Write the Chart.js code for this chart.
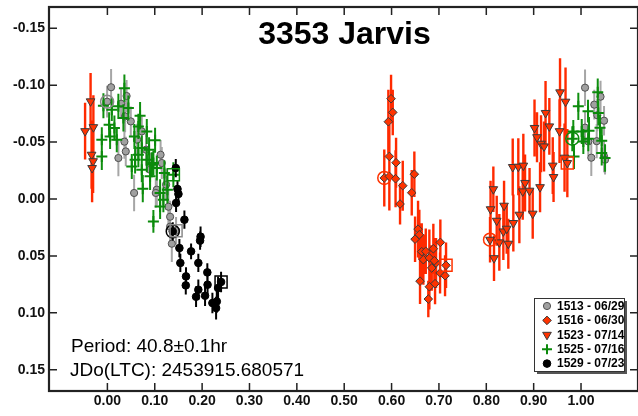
<!DOCTYPE html>
<html>
<head>
<meta charset="utf-8">
<script src="https://cdn.jsdelivr.net/npm/chart.js@4.4.1/dist/chart.umd.min.js"></script>
<style>
  html, body { margin: 0; padding: 0; background: #fff; }
  canvas { display: block; }
</style>
</head>
<body>
<canvas id="lc" width="638" height="416"></canvas>
<script>
// Lightcurve of 3353 Jarvis, phased to P = 40.8 h.
// Each session row: [phase, delta mag, error]. First row is the session start, last row the session end.
const sessions = ['1513 - 06/29', '1516 - 06/30', '1523 - 07/14', '1525 - 07/16', '1529 - 07/23'];

const s1513 = [
  [-0.0006, -0.0855, 0.014],
  [0.0078, -0.0982, 0.016], [0.0405, -0.0905, 0.014], [0.0289, -0.0837, 0.013],
  [0.0374, -0.0726, 0.014], [0.0494, -0.0682, 0.013], [0.0359, -0.0504, 0.015],
  [0.0388, -0.0418, 0.013], [0.0232, -0.0360, 0.016], [0.0564, -0.0053, 0.016],
  [0.0627, -0.0521, 0.014], [0.0726, -0.0594, 0.013], [0.0817, -0.0433, 0.014],
  [0.0901, -0.0257, 0.015], [0.1123, -0.0389, 0.013], [0.1148, -0.0316, 0.014],
  [0.1043, -0.0082, 0.014], [0.1022, -0.0053, 0.013], [0.1239, -0.0126, 0.014],
  [0.1288, 0.0068, 0.015], [0.1324, 0.0156, 0.014], [0.1324, 0.0243, 0.013],
  [0.1360, 0.0393, 0.016],
  [1.0085, -0.0978, 0.016], [1.0412, -0.0899, 0.014], [1.0280, -0.0829, 0.013],
  [1.0344, -0.0736, 0.014], [1.0486, -0.0688, 0.013], [1.0085, -0.0627, 0.014],
  [1.0331, -0.0508, 0.015], [1.0154, -0.0506, 0.013], [1.0217, -0.0363, 0.016],
  [1.0486, -0.0374, 0.014], [1.0507, -0.0345, 0.013],
  [0.1450, 0.0279, 0.012]
];

const s1516 = [
  [0.5846, -0.0185, 0.025],
  [0.5989, -0.0881, 0.021], [0.6025, -0.0761, 0.020], [0.5932, -0.0679, 0.028],
  [0.5953, -0.0374, 0.028], [0.6095, -0.0319, 0.022], [0.5953, -0.0199, 0.030],
  [0.6084, -0.0178, 0.025], [0.6236, -0.0117, 0.022], [0.6481, -0.0218, 0.020],
  [0.6426, -0.0055, 0.020], [0.6179, 0.0044, 0.018], [0.6559, 0.0265, 0.025],
  [0.6586, 0.0314, 0.022], [0.6496, 0.0353, 0.020], [0.6637, 0.0463, 0.025],
  [0.6671, 0.0533, 0.022], [0.6722, 0.0460, 0.020], [0.6798, 0.0518, 0.025],
  [0.6882, 0.0437, 0.022], [0.7030, 0.0381, 0.020], [0.6939, 0.0562, 0.022],
  [0.6848, 0.0606, 0.020], [0.6903, 0.0542, 0.020], [0.7024, 0.0650, 0.018],
  [0.7129, 0.0674, 0.018], [0.6601, 0.0722, 0.020], [0.6798, 0.0771, 0.020],
  [0.6918, 0.0744, 0.018], [0.6776, 0.0879, 0.016],
  [0.7150, 0.0583, 0.020]
];

const s1523 = [
  [0.8079, 0.0358, 0.020],
  [0.8163, 0.0520, 0.020], [0.8275, 0.0381, 0.025], [0.8465, 0.0393, 0.022],
  [0.8360, 0.0285, 0.025], [0.8431, 0.0261, 0.022], [0.8220, 0.0191, 0.022],
  [0.8571, 0.0211, 0.025], [0.8090, 0.0090, 0.025], [0.8375, 0.0059, 0.022],
  [0.8698, 0.0138, 0.025], [0.8980, 0.0129, 0.022], [0.8149, -0.0086, 0.020],
  [0.8558, -0.0281, 0.025], [0.8676, -0.0284, 0.025], [0.8782, -0.0293, 0.028],
  [0.8818, -0.0141, 0.025], [0.8769, -0.0067, 0.025], [0.8913, -0.0073, 0.020],
  [0.9135, -0.0104, 0.022], [0.9018, -0.0624, 0.025], [0.9071, -0.0543, 0.022],
  [0.9156, -0.0486, 0.025], [0.9219, -0.0462, 0.022], [0.9251, -0.0756, 0.028],
  [0.9331, -0.0638, 0.025], [0.9403, -0.0293, 0.025], [0.9420, -0.0193, 0.022],
  [0.9546, -0.0596, 0.028], [0.9557, -0.0937, 0.030], [0.9673, -0.0855, 0.030],
  [0.9652, -0.0363, 0.030],
  [-0.0355, -0.0858, 0.025], [-0.0471, -0.0596, 0.025], [-0.0296, -0.0631, 0.028],
  [-0.0334, -0.0389, 0.030], [-0.0302, -0.0332, 0.028], [-0.0323, -0.0272, 0.030],
  [0.9711, -0.0316, 0.030]
];

const s1525 = [
  [0.9816, -0.0530, 0.011],
  [0.9852, -0.0374, 0.011], [0.9837, -0.0594, 0.010], [0.9943, -0.0814, 0.012],
  [1.0015, -0.0594, 0.011], [1.0049, -0.0506, 0.011], [1.0148, -0.0772, 0.010],
  [1.0154, -0.0530, 0.011], [1.0169, -0.0600, 0.012], [1.0353, -0.0938, 0.012],
  [1.0365, -0.0756, 0.011], [1.0401, -0.0627, 0.011], [1.0437, -0.0512, 0.012],
  [1.0437, -0.0404, 0.011], [1.0507, -0.0360, 0.012],
  [-0.0118, -0.0521, 0.011], [-0.0118, -0.0374, 0.012], [-0.0084, -0.0820, 0.011],
  [0.0036, -0.0653, 0.011], [0.0057, -0.0550, 0.011], [0.0093, -0.0785, 0.010],
  [0.0148, -0.0624, 0.011], [0.0198, -0.0521, 0.011], [0.0232, -0.0814, 0.011],
  [0.0338, -0.0712, 0.012], [0.0359, -0.0974, 0.012], [0.0443, -0.0800, 0.011],
  [0.0515, -0.0286, 0.011], [0.0570, -0.0550, 0.011], [0.0585, -0.0345, 0.012],
  [0.0654, -0.0638, 0.011], [0.0654, -0.0389, 0.011], [0.0690, -0.0732, 0.012],
  [0.0726, -0.0448, 0.011], [0.0726, -0.0257, 0.011], [0.0747, -0.0091, 0.012],
  [0.0832, -0.0594, 0.011], [0.0832, -0.0345, 0.011], [0.0880, -0.0433, 0.011],
  [0.0901, -0.0199, 0.012], [0.0937, -0.0301, 0.011], [0.0971, -0.0316, 0.011],
  [0.0971, 0.0197, 0.010], [0.1007, -0.0517, 0.011], [0.1043, -0.0272, 0.011],
  [0.1113, -0.0053, 0.012], [0.1113, 0.0065, 0.011], [0.1182, 0.0006, 0.011],
  [0.1203, -0.0228, 0.011], [0.1267, -0.0082, 0.012],
  [0.1393, -0.0214, 0.011]
];

const s1529 = [
  [0.1380, 0.0285, 0.008],
  [0.1444, -0.0272, 0.008], [0.1480, -0.0088, 0.007], [0.1500, -0.0044, 0.007],
  [0.1450, 0.0035, 0.008], [0.1626, 0.0182, 0.008], [0.1520, 0.0431, 0.008],
  [0.1540, 0.0562, 0.008], [0.1767, 0.0460, 0.007], [0.1957, 0.0366, 0.008],
  [0.1967, 0.0331, 0.009], [0.1920, 0.0562, 0.008], [0.1660, 0.0680, 0.008],
  [0.1655, 0.0759, 0.008], [0.1920, 0.0797, 0.009], [0.1872, 0.0859, 0.009],
  [0.2110, 0.0645, 0.008], [0.2115, 0.0753, 0.008], [0.2062, 0.0850, 0.009],
  [0.2217, 0.0914, 0.009], [0.2310, 0.0900, 0.010], [0.2295, 0.0958, 0.010],
  [0.2337, 0.0782, 0.010],
  [0.2400, 0.0729, 0.009]
];

const sessionData = [s1513, s1516, s1523, s1525, s1529];

const xTicks = [0, 0.1, 0.2, 0.3, 0.4, 0.5, 0.6, 0.7, 0.8, 0.9, 1.0];
const yTicks = [-0.15, -0.10, -0.05, 0, 0.05, 0.10, 0.15];

const titleText = '3353 Jarvis';
const notes = ['Period: 40.8\u00b10.1hr', 'JDo(LTC): 2453915.680571'];

const FONT = '"Liberation Sans", Arial, Helvetica, sans-serif';

// marker look per session
const styles = [
  { shape: 'circle', radius: 3.6, rot: 0, fill: '#a0a0a0', edge: '#505050', edgeW: 1, bar: '#a6a6a6', barW: 2, mark: '#8a8a8a' },
  { shape: 'rectRot', radius: 4.3, rot: 0, fill: '#ff3300', edge: '#3a3a3a', edgeW: 1, bar: '#ff2a00', barW: 2.4, mark: '#ff3300' },
  { shape: 'triangle', radius: 5, rot: 180, fill: '#ff3300', edge: '#3a3a3a', edgeW: 1, bar: '#ff2a00', barW: 2.4, mark: '#ff3300' },
  { shape: 'cross', radius: 5.5, rot: 0, fill: '#0b8a0b', edge: '#0b8a0b', edgeW: 2, bar: '#0f8f0f', barW: 2, mark: '#0b8a0b' },
  { shape: 'circle', radius: 3.8, rot: 0, fill: '#000000', edge: '#000000', edgeW: 1, bar: '#000000', barW: 2, mark: '#000000' }
];

const datasets = sessions.map((name, k) => ({
  label: name,
  data: sessionData[k].map(r => ({ x: r[0], y: r[1] })),
  errors: sessionData[k].map(r => r[2]),
  barColor: styles[k].bar,
  barWidth: styles[k].barW,
  pointStyle: styles[k].shape,
  pointRotation: styles[k].rot,
  pointRadius: styles[k].radius,
  pointBackgroundColor: styles[k].fill,
  pointBorderColor: styles[k].edge,
  pointBorderWidth: styles[k].edgeW,
  order: 10 - k
}));

// open circle on the first point of a session, open square on the last
sessionData.forEach((rows, k) => {
  const first = rows[0], last = rows[rows.length - 1];
  datasets.push({
    label: sessions[k] + ' ends',
    data: [{ x: first[0], y: first[1] }, { x: last[0], y: last[1] }],
    pointStyle: ['circle', 'rect'],
    pointRadius: [6.5, 8.5],
    pointBackgroundColor: 'rgba(0,0,0,0)',
    pointBorderColor: styles[k].mark,
    pointBorderWidth: 1.5,
    order: 0
  });
});

const errorBars = {
  id: 'errorBars',
  beforeDatasetDraw(chart, args) {
    const ds = chart.data.datasets[args.index];
    if (!ds.errors) return;
    const { ctx, chartArea: a, scales: { x, y } } = chart;
    ctx.save();
    ctx.beginPath();
    ctx.rect(a.left, a.top, a.right - a.left, a.bottom - a.top);
    ctx.clip();
    ctx.strokeStyle = ds.barColor;
    ctx.lineWidth = ds.barWidth;
    ctx.beginPath();
    ds.data.forEach((p, i) => {
      const px = x.getPixelForValue(p.x);
      ctx.moveTo(px, y.getPixelForValue(p.y - ds.errors[i]));
      ctx.lineTo(px, y.getPixelForValue(p.y + ds.errors[i]));
    });
    ctx.stroke();
    ctx.restore();
  }
};

const frame = {
  id: 'frame',
  afterDatasetsDraw(chart) {
    const { ctx, chartArea: a, scales: { x, y } } = chart;
    ctx.save();
    ctx.strokeStyle = '#222';
    ctx.lineWidth = 1.5;
    ctx.beginPath();
    xTicks.forEach(v => {
      const px = x.getPixelForValue(v);
      ctx.moveTo(px, a.top); ctx.lineTo(px, a.top + 8);
      ctx.moveTo(px, a.bottom); ctx.lineTo(px, a.bottom - 8);
    });
    yTicks.forEach(v => {
      const py = y.getPixelForValue(v);
      ctx.moveTo(a.left, py); ctx.lineTo(a.left + 8, py);
      ctx.moveTo(a.right, py); ctx.lineTo(a.right - 8, py);
    });
    ctx.stroke();
    ctx.lineWidth = 2.2;
    ctx.strokeRect(a.left, a.top, a.right - a.left, a.bottom - a.top);
    ctx.restore();
  }
};

const labels = {
  id: 'labels',
  afterDraw(chart) {
    const { ctx, chartArea: a } = chart;
    ctx.save();
    ctx.fillStyle = '#000';
    ctx.textBaseline = 'middle';
    ctx.textAlign = 'center';
    ctx.font = 'bold 32px ' + FONT;
    ctx.fillText(titleText, (a.left + 640) / 2, 35);

    ctx.textAlign = 'left';
    ctx.font = '19px ' + FONT;
    ctx.fillText(notes[0], 71, 347);
    ctx.fillText(notes[1], 70, 370.5);

    // legend box with drop shadow
    const bx = 534, by = 298, bw = 90, bh = 73;
    ctx.fillStyle = '#555';
    ctx.fillRect(bx + 3, by + 3, bw, bh);
    ctx.fillStyle = '#fff';
    ctx.fillRect(bx, by, bw, bh);
    ctx.strokeStyle = '#333';
    ctx.lineWidth = 1;
    ctx.strokeRect(bx + 0.5, by + 0.5, bw, bh);

    ctx.font = 'bold 12px ' + FONT;
    sessions.forEach((name, k) => {
      const s = styles[k];
      const ry = by + 8 + k * 14.4;
      ctx.fillStyle = s.fill;
      ctx.strokeStyle = s.edge;
      ctx.lineWidth = s.edgeW;
      Chart.helpers.drawPoint(ctx, {
        pointStyle: s.shape,
        radius: s.shape === 'cross' ? 5 : s.radius,
        rotation: s.rot,
        borderWidth: s.edgeW
      }, bx + 13, ry);
      ctx.fillStyle = '#000';
      ctx.fillText(name, bx + 23, ry + 0.5);
    });
    ctx.restore();
  }
};

// keep the plot box fixed: no extra room for edge labels
const noEdgePadding = s => {
  s.paddingTop = 0; s.paddingBottom = 0; s.paddingLeft = 0; s.paddingRight = 0;
};

new Chart(document.getElementById('lc'), {
  type: 'scatter',
  data: { datasets },
  options: {
    responsive: false,
    animation: false,
    devicePixelRatio: 1,
    events: [],
    layout: { autoPadding: false, padding: { top: 7, right: 0, left: 0, bottom: 0 } },
    plugins: { legend: { display: false }, tooltip: { enabled: false } },
    scales: {
      x: {
        type: 'linear',
        min: -0.1233,
        max: 1.1203,
        afterFit: s => { s.height = 25; noEdgePadding(s); },
        afterBuildTicks: s => { s.ticks = xTicks.map(v => ({ value: v })); },
        grid: { display: false, drawTicks: false },
        border: { display: false },
        ticks: {
          padding: 2,
          color: '#111',
          font: { family: FONT, size: 14, weight: 'bold' },
          maxRotation: 0,
          autoSkip: false,
          callback: v => v.toFixed(2)
        }
      },
      y: {
        type: 'linear',
        reverse: true,
        min: -0.1687,
        max: 0.1687,
        afterFit: s => { s.width = 49; noEdgePadding(s); },
        afterBuildTicks: s => { s.ticks = yTicks.map(v => ({ value: v })); },
        grid: { display: false, drawTicks: false },
        border: { display: false },
        ticks: {
          padding: 4,
          color: '#111',
          font: { family: FONT, size: 14, weight: 'bold' },
          autoSkip: false,
          callback: v => v.toFixed(2)
        }
      }
    }
  },
  plugins: [errorBars, frame, labels]
});
</script>
</body>
</html>
